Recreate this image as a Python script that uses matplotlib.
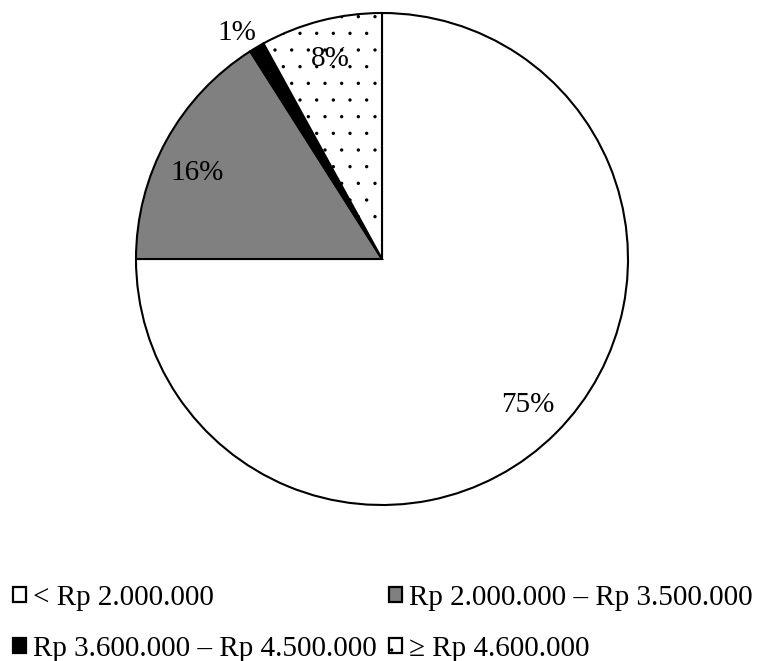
import matplotlib
matplotlib.use("Agg")
import matplotlib.pyplot as plt

plt.rcParams['font.family'] = ['Liberation Serif', 'DejaVu Serif']
plt.rcParams['hatch.color'] = '#666666'
plt.rcParams['hatch.linewidth'] = 0.0

categories = ["< Rp 2.000.000", "Rp 2.000.000 – Rp 3.500.000",
              "Rp 3.600.000 – Rp 4.500.000", "≥ Rp 4.600.000"]
shares = [75, 16, 1, 8]
colors = ["white", "#808080", "black", "white"]
hatches = [None, None, None, "."]

W, H = 762, 661
fig = plt.figure(figsize=(W / 100, H / 100), dpi=100)
cx, cy, r = 382, 259, 246
ax = fig.add_axes([(cx - r) / W, (H - cy - r) / H, 2 * r / W, 2 * r / H])

wedges, texts, autotexts = ax.pie(
    shares, colors=colors, startangle=90, counterclock=False,
    autopct=lambda p: f"{p:.0f}%", pctdistance=0.84, radius=1,
    wedgeprops=dict(edgecolor="black", linewidth=1.5),
    textprops=dict(fontsize=21, color="black"))
for w, h in zip(wedges, hatches):
    if h:
        w.set_hatch(h)

# small slice label sits outside the rim; nudge the 16% label
autotexts[2].set_position((-0.59, 0.92))
autotexts[1].set_position((-0.75, 0.35))
ax.set_xlim(-1, 1)
ax.set_ylim(-1, 1)
ax.set_aspect("equal")
ax.axis("off")

order = [0, 2, 1, 3]
handles = [plt.Rectangle((0, 0), 1, 1, facecolor=colors[i], edgecolor="black",
                         linewidth=1.6, hatch=hatches[i]) for i in order]
labels = [categories[i] for i in order]
fig.legend(handles, labels, ncol=2, loc="upper left",
           bbox_to_anchor=(13 / W, 1 - 585 / H), frameon=False,
           fontsize=21, handlelength=0.45, handleheight=0.45,
           handletextpad=0.25, columnspacing=0.4, labelspacing=0.85,
           borderpad=0, borderaxespad=0)

fig.savefig("out.png", dpi=100)
